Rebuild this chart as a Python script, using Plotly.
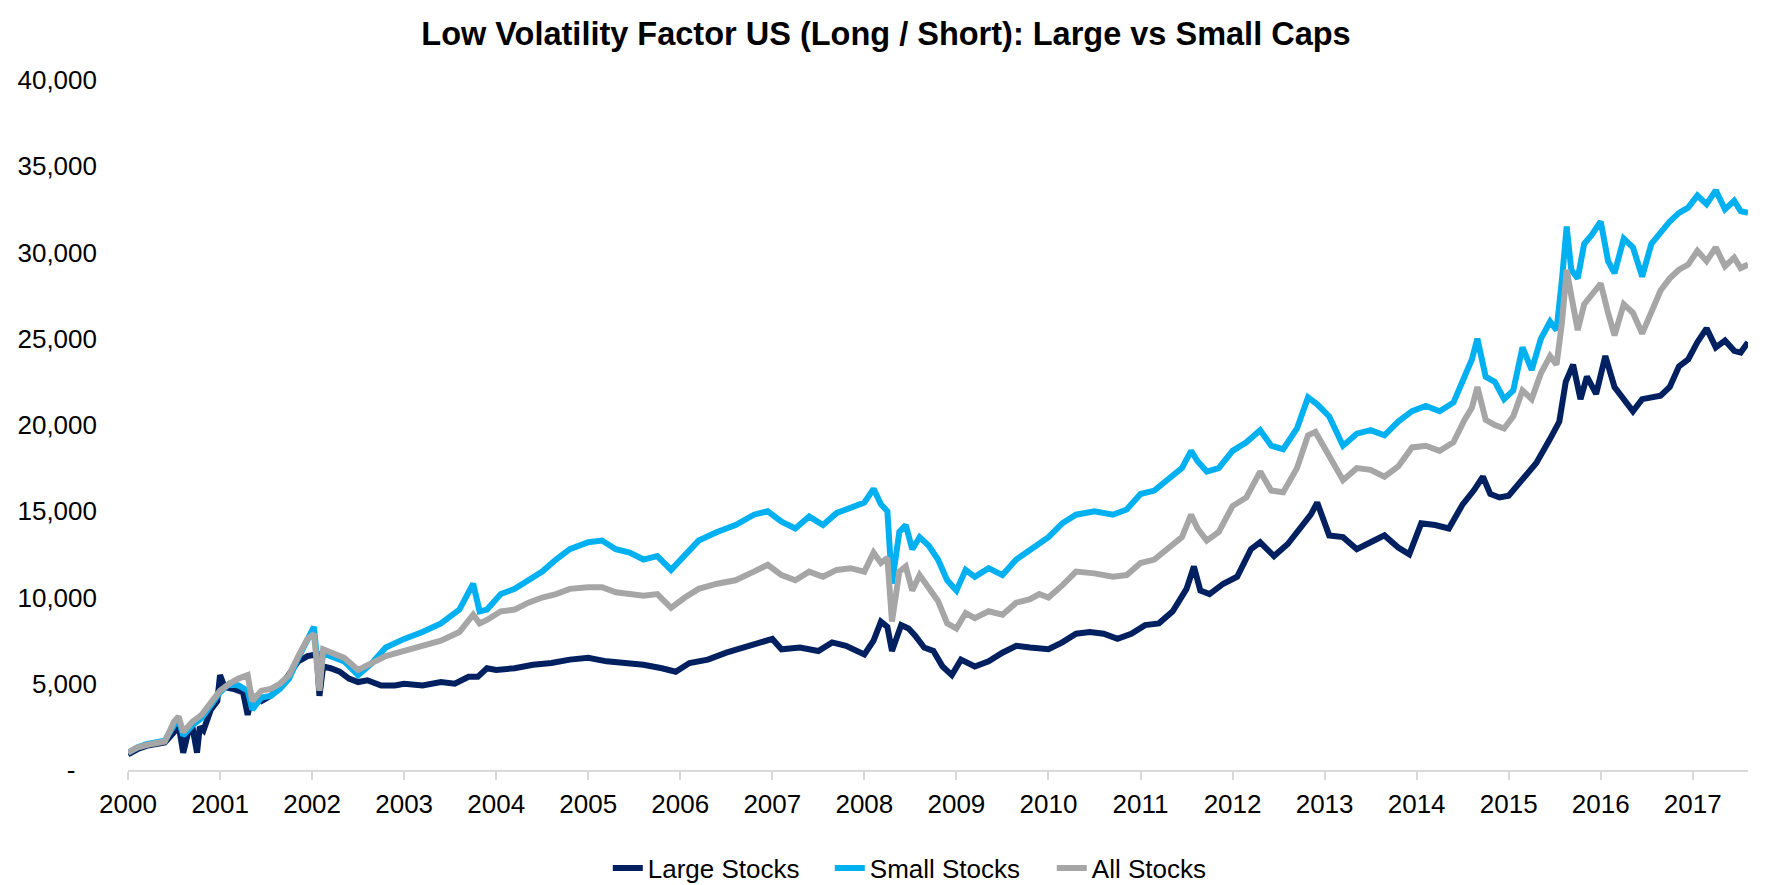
import plotly.graph_objects as go

# Decimal-year positions and values
large_t = [2000.0, 2000.1, 2000.2, 2000.3, 2000.4, 2000.5, 2000.55, 2000.6, 2000.65, 2000.7, 2000.75, 2000.78, 2000.82, 2000.9,
           2000.97, 2001.0, 2001.05, 2001.15, 2001.25, 2001.3, 2001.35, 2001.45, 2001.55, 2001.65, 2001.75, 2001.85, 2001.95,
           2002.05, 2002.08, 2002.12, 2002.2, 2002.3, 2002.4, 2002.5, 2002.6, 2002.75, 2002.9, 2003.0, 2003.2, 2003.4,
           2003.55, 2003.7, 2003.8, 2003.9, 2004.0, 2004.2, 2004.4, 2004.6, 2004.8, 2005.0, 2005.2, 2005.4, 2005.6, 2005.8,
           2005.95, 2006.1, 2006.3, 2006.5, 2006.7, 2006.9, 2007.0, 2007.1, 2007.3, 2007.5, 2007.65, 2007.8, 2008.0,
           2008.1, 2008.18, 2008.25, 2008.3, 2008.4, 2008.48, 2008.55, 2008.65, 2008.75, 2008.85, 2008.95, 2009.05, 2009.2,
           2009.35, 2009.5, 2009.65, 2009.8, 2010.0, 2010.15, 2010.3, 2010.45, 2010.6, 2010.75, 2010.9, 2011.05, 2011.2,
           2011.35, 2011.5, 2011.58, 2011.65, 2011.75, 2011.9, 2012.05, 2012.2, 2012.3, 2012.45, 2012.6, 2012.75, 2012.85,
           2012.92, 2013.05, 2013.2, 2013.35, 2013.5, 2013.65, 2013.8, 2013.92, 2014.05, 2014.2, 2014.35, 2014.5, 2014.62,
           2014.72, 2014.8, 2014.9, 2015.0, 2015.15, 2015.3, 2015.45, 2015.55, 2015.62, 2015.7, 2015.78, 2015.85, 2015.95,
           2016.05, 2016.15, 2016.25, 2016.35, 2016.45, 2016.55, 2016.65, 2016.75, 2016.85, 2016.95, 2017.05, 2017.15,
           2017.25, 2017.35, 2017.45, 2017.52, 2017.6]
large_v = [900, 1200, 1400, 1500, 1600, 2200, 2600, 1000, 2100, 2500, 1000, 2500, 2300, 3500,
           4000, 5500, 4800, 4700, 4500, 3200, 4300, 4000, 4300, 4800, 5500, 6300, 6600,
           6700, 4300, 6000, 5900, 5700, 5300, 5100, 5200, 4900, 4900, 5000, 4900, 5100,
           5000, 5400, 5400, 5900, 5800, 5900, 6100, 6200, 6400, 6500, 6300, 6200, 6100, 5900,
           5700, 6200, 6400, 6800, 7100, 7400, 7600, 7000, 7100, 6900, 7400, 7200, 6700,
           7500, 8600, 8300, 6900, 8400, 8200, 7800, 7100, 6900, 6000, 5500, 6400, 6000,
           6300, 6800, 7200, 7100, 7000, 7400, 7900, 8000, 7900, 7600, 7900, 8400, 8500,
           9200, 10500, 11800, 10400, 10200, 10800, 11200, 12800, 13200, 12400, 13100, 14200, 14800,
           15500, 13600, 13500, 12800, 13200, 13600, 12900, 12500, 14300, 14200, 14000, 15400, 16200,
           17000, 16000, 15800, 15900, 16800, 17800, 19200, 20200, 22500, 23500, 21500, 22800, 21800,
           24000, 22200, 21500, 20800, 21500, 21600, 21700, 22200, 23400, 23800, 24800, 25600,
           24500, 24900, 24300, 24200, 24800]

small_t = [2000.0, 2000.1, 2000.2, 2000.3, 2000.4, 2000.5, 2000.55, 2000.6, 2000.7, 2000.8, 2000.9, 2001.0, 2001.1,
           2001.2, 2001.3, 2001.35, 2001.45, 2001.55, 2001.65, 2001.75, 2001.85, 2001.95, 2002.02, 2002.08, 2002.12,
           2002.2, 2002.35, 2002.5, 2002.65, 2002.8, 2003.0, 2003.2, 2003.4, 2003.6, 2003.75, 2003.82, 2003.9, 2004.05,
           2004.2, 2004.35, 2004.5, 2004.65, 2004.8, 2005.0, 2005.15, 2005.3, 2005.45, 2005.6, 2005.75, 2005.9, 2006.05,
           2006.2, 2006.4, 2006.6, 2006.8, 2006.95, 2007.1, 2007.25, 2007.4, 2007.55, 2007.7, 2007.85, 2008.0, 2008.1,
           2008.18, 2008.25, 2008.3, 2008.38, 2008.45, 2008.52, 2008.6, 2008.7, 2008.8, 2008.9, 2009.0, 2009.1, 2009.2,
           2009.35, 2009.5, 2009.65, 2009.8, 2009.9, 2010.0, 2010.15, 2010.3, 2010.5, 2010.7, 2010.85, 2011.0, 2011.15,
           2011.3, 2011.45, 2011.55, 2011.62, 2011.72, 2011.85, 2012.0, 2012.15, 2012.3, 2012.42, 2012.55, 2012.7, 2012.82,
           2012.92, 2013.05, 2013.2, 2013.35, 2013.5, 2013.65, 2013.8, 2013.95, 2014.1, 2014.25, 2014.4, 2014.52, 2014.6,
           2014.66, 2014.75, 2014.85, 2014.95, 2015.05, 2015.15, 2015.25, 2015.35, 2015.45, 2015.52, 2015.58, 2015.63,
           2015.68, 2015.75, 2015.82, 2015.9, 2016.0, 2016.08, 2016.15, 2016.25, 2016.35, 2016.45, 2016.55, 2016.65,
           2016.75, 2016.85, 2016.95, 2017.05, 2017.15, 2017.25, 2017.35, 2017.45, 2017.52, 2017.6]
small_v = [1000, 1300, 1500, 1600, 1700, 2600, 2900, 2000, 2600, 3000, 3800, 4500, 5000,
           4900, 4600, 3500, 4200, 4300, 4700, 5300, 6500, 7600, 8300, 5000, 6800,
           6600, 6300, 5500, 6200, 7100, 7600, 8000, 8500, 9300, 10800, 9200, 9300, 10200,
           10500, 11000, 11500, 12200, 12800, 13200, 13300, 12800, 12600, 12200, 12400, 11600, 12400,
           13300, 13800, 14200, 14800, 15000, 14400, 14000, 14700, 14200, 14900, 15200, 15500, 16300,
           15400, 15000, 10800, 13800, 14200, 12800, 13500, 13000, 12200, 11000, 10400, 11600, 11200,
           11700, 11300, 12200, 12800, 13200, 13500, 14300, 14800, 15000, 14800, 15100, 16000, 16200,
           16800, 17500, 18500, 17900, 17300, 17500, 18500, 19000, 19700, 18800, 18600, 19800, 21600,
           21200, 20500, 18800, 19500, 19700, 19400, 20200, 20800, 21100, 20800, 21300, 22800, 23800,
           25000, 22800, 22500, 21500, 22000, 24500, 23200, 25000, 26000, 25500, 28500, 31500,
           29000, 28500, 30500, 31000, 31800, 29500, 28800, 30800, 30300, 28600, 30500, 31200,
           31800, 32300, 32600, 33300, 32800, 33600, 32500, 33000, 32400, 32300, 32900]

all_t = [2000.0, 2000.1, 2000.2, 2000.3, 2000.4, 2000.5, 2000.55, 2000.6, 2000.7, 2000.8, 2000.9, 2001.0, 2001.1,
         2001.2, 2001.3, 2001.35, 2001.45, 2001.55, 2001.65, 2001.75, 2001.85, 2001.95, 2002.02, 2002.08, 2002.12,
         2002.2, 2002.35, 2002.5, 2002.65, 2002.8, 2003.0, 2003.2, 2003.4, 2003.6, 2003.75, 2003.82, 2003.9, 2004.05,
         2004.2, 2004.35, 2004.5, 2004.65, 2004.8, 2005.0, 2005.15, 2005.3, 2005.45, 2005.6, 2005.75, 2005.9, 2006.05,
         2006.2, 2006.4, 2006.6, 2006.8, 2006.95, 2007.1, 2007.25, 2007.4, 2007.55, 2007.7, 2007.85, 2008.0, 2008.1,
         2008.18, 2008.25, 2008.3, 2008.38, 2008.45, 2008.52, 2008.6, 2008.7, 2008.8, 2008.9, 2009.0, 2009.1, 2009.2,
         2009.35, 2009.5, 2009.65, 2009.8, 2009.9, 2010.0, 2010.15, 2010.3, 2010.5, 2010.7, 2010.85, 2011.0, 2011.15,
         2011.3, 2011.45, 2011.55, 2011.62, 2011.72, 2011.85, 2012.0, 2012.15, 2012.3, 2012.42, 2012.55, 2012.7, 2012.82,
         2012.9, 2013.05, 2013.2, 2013.35, 2013.5, 2013.65, 2013.8, 2013.95, 2014.1, 2014.25, 2014.4, 2014.52, 2014.6,
         2014.66, 2014.75, 2014.85, 2014.95, 2015.05, 2015.15, 2015.25, 2015.35, 2015.45, 2015.52, 2015.58, 2015.63,
         2015.68, 2015.75, 2015.82, 2015.9, 2016.0, 2016.08, 2016.15, 2016.25, 2016.35, 2016.45, 2016.55, 2016.65,
         2016.75, 2016.85, 2016.95, 2017.05, 2017.15, 2017.25, 2017.35, 2017.45, 2017.52, 2017.6]
all_v = [1000, 1300, 1450, 1550, 1650, 2800, 3100, 2200, 2800, 3200, 3900, 4600, 5000,
         5300, 5500, 4000, 4600, 4700, 5000, 5500, 6600, 7600, 7900, 4600, 7000,
         6800, 6500, 5800, 6200, 6600, 6900, 7200, 7500, 8000, 9000, 8500, 8700, 9200,
         9300, 9700, 10000, 10200, 10500, 10600, 10600, 10300, 10200, 10100, 10200, 9400, 10000,
         10500, 10800, 11000, 11500, 11900, 11300, 11000, 11500, 11200, 11600, 11700, 11500, 12600,
         12000, 12300, 8600, 11500, 11800, 10400, 11300, 10600, 9800, 8500, 8200, 9100, 8800,
         9200, 9000, 9700, 9900, 10200, 10000, 10700, 11500, 11400, 11200, 11300, 12000, 12200,
         12800, 13500, 14800, 14000, 13300, 13800, 15300, 15800, 17300, 16200, 16100, 17500, 19400,
         19600, 18200, 16800, 17500, 17400, 17000, 17600, 18700, 18800, 18500, 19000, 20300, 21000,
         22200, 20300, 20000, 19800, 20500, 22000, 21500, 23000, 24000, 23500, 26000, 29000,
         27500, 25500, 27000, 27500, 28200, 26500, 25200, 27000, 26500, 25300, 26500, 27800,
         28500, 29000, 29300, 30100, 29500, 30300, 29200, 29700, 29100, 29300, 29800]

year_ticks = list(range(2000, 2018))
y_ticks = [0, 5000, 10000, 15000, 20000, 25000, 30000, 35000, 40000]
y_tick_text = ["-\u00a0\u00a0\u00a0"] + [f"{v:,}" for v in y_ticks[1:]]

names = ["Large Stocks", "Small Stocks", "All Stocks"]
colors = ["#002060", "#00B0F0", "#A6A6A6"]

FONT = "Liberation Sans, Arial, sans-serif"

fig = go.Figure()
for name, t, v, c in zip(names, [large_t, small_t, all_t], [large_v, small_v, all_v], colors):
    fig.add_trace(go.Scatter(x=t, y=v, name=name, mode="lines",
                             line=dict(color=c, width=6)))

fig.update_layout(
    width=1772, height=885,
    paper_bgcolor="white", plot_bgcolor="white",
    margin=dict(l=128, r=24, t=80, b=115, autoexpand=False),
    title=dict(text="<b>Low Volatility Factor US (Long / Short): Large vs Small Caps</b>",
               x=0.5, xanchor="center", xref="container", y=1 - 34 / 885, yanchor="middle", yref="container",
               font=dict(family=FONT, size=32.5, color="black")),
    font=dict(family=FONT, size=26, color="black"),
    showlegend=True,
    legend=dict(orientation="h", x=0.343, xanchor="left", xref="container",
                y=1 - 868 / 885, yanchor="middle", yref="container",
                font=dict(family=FONT, size=26, color="black"), itemwidth=30,
                entrywidth=177, entrywidthmode="pixels",
                traceorder="normal", tracegroupgap=0),
)

fig.update_xaxes(range=[2000, 2017.6], tickmode="array", tickvals=year_ticks,
                 ticktext=[str(y) for y in year_ticks],
                 showgrid=False, zeroline=False, showline=True, linecolor="#D9D9D9", linewidth=2,
                 ticks="outside", ticklen=8, tickcolor="#D9D9D9", tickwidth=2,
                 ticklabelstandoff=2, tickfont=dict(family=FONT, size=26, color="black"))
fig.update_yaxes(range=[0, 40000], tickmode="array", tickvals=y_ticks, ticktext=y_tick_text,
                 showgrid=False, zeroline=False, showline=False, ticks="",
                 ticklabelstandoff=30, tickfont=dict(family=FONT, size=26, color="black"))

fig.write_html("out.html", config={"displayModeBar": False},
               post_script="document.body.style.margin='0';document.body.style.overflow='hidden';")
